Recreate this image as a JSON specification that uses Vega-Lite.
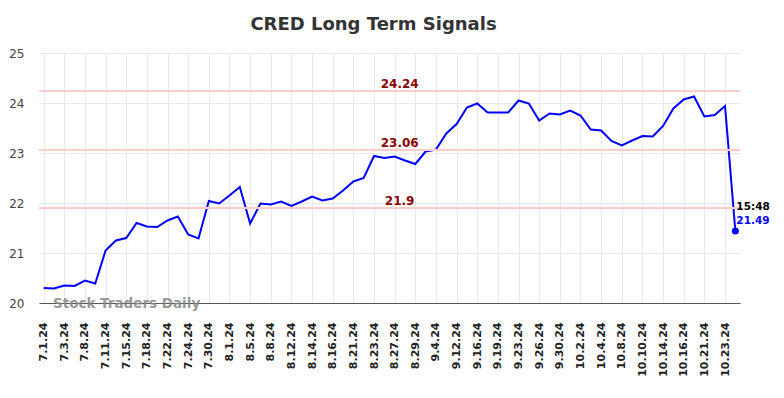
{
  "$schema": "https://vega.github.io/schema/vega-lite/v6.json",
  "autosize": "none",
  "padding": {"left": 39, "top": 53, "right": 44, "bottom": 95},
  "width": 701,
  "height": 250,
  "background": "white",
  "config": {
    "font": "DejaVu Sans",
    "view": {"stroke": null},
    "axis": {"gridColor": "#e8e8e8", "gridWidth": 1}
  },
  "title": {
    "text": "CRED Long Term Signals",
    "fontSize": 18,
    "fontWeight": "bold",
    "color": "#333333",
    "font": "DejaVu Sans",
    "anchor": "middle",
    "dx": -16,
    "offset": 13
  },
  "datasets": {
    "prices": [
      {"d": "7.1.24", "v": 20.30}, {"d": "7.2.24", "v": 20.29}, {"d": "7.3.24", "v": 20.35}, {"d": "7.5.24", "v": 20.34},
      {"d": "7.8.24", "v": 20.45}, {"d": "7.10.24", "v": 20.39}, {"d": "7.11.24", "v": 21.05}, {"d": "7.12.24", "v": 21.25},
      {"d": "7.15.24", "v": 21.30}, {"d": "7.16.24", "v": 21.60}, {"d": "7.18.24", "v": 21.53}, {"d": "7.19.24", "v": 21.52},
      {"d": "7.22.24", "v": 21.65}, {"d": "7.23.24", "v": 21.73}, {"d": "7.24.24", "v": 21.37}, {"d": "7.25.24", "v": 21.29},
      {"d": "7.30.24", "v": 22.04}, {"d": "7.31.24", "v": 21.99}, {"d": "8.1.24", "v": 22.15}, {"d": "8.2.24", "v": 22.32},
      {"d": "8.5.24", "v": 21.59}, {"d": "8.6.24", "v": 21.99}, {"d": "8.8.24", "v": 21.97}, {"d": "8.9.24", "v": 22.03},
      {"d": "8.12.24", "v": 21.94}, {"d": "8.13.24", "v": 22.03}, {"d": "8.14.24", "v": 22.13}, {"d": "8.15.24", "v": 22.05},
      {"d": "8.16.24", "v": 22.09}, {"d": "8.19.24", "v": 22.25}, {"d": "8.21.24", "v": 22.43}, {"d": "8.22.24", "v": 22.50},
      {"d": "8.23.24", "v": 22.94}, {"d": "8.26.24", "v": 22.90}, {"d": "8.27.24", "v": 22.93}, {"d": "8.28.24", "v": 22.85},
      {"d": "8.29.24", "v": 22.78}, {"d": "8.30.24", "v": 23.03}, {"d": "9.4.24", "v": 23.07}, {"d": "9.5.24", "v": 23.39},
      {"d": "9.12.24", "v": 23.58}, {"d": "9.13.24", "v": 23.91}, {"d": "9.16.24", "v": 23.99}, {"d": "9.17.24", "v": 23.81},
      {"d": "9.19.24", "v": 23.81}, {"d": "9.20.24", "v": 23.81}, {"d": "9.23.24", "v": 24.05}, {"d": "9.24.24", "v": 23.99},
      {"d": "9.26.24", "v": 23.65}, {"d": "9.27.24", "v": 23.79}, {"d": "9.30.24", "v": 23.77}, {"d": "10.1.24", "v": 23.85},
      {"d": "10.2.24", "v": 23.75}, {"d": "10.3.24", "v": 23.47}, {"d": "10.4.24", "v": 23.45}, {"d": "10.7.24", "v": 23.24},
      {"d": "10.8.24", "v": 23.15}, {"d": "10.9.24", "v": 23.25}, {"d": "10.10.24", "v": 23.34}, {"d": "10.11.24", "v": 23.33},
      {"d": "10.14.24", "v": 23.54}, {"d": "10.15.24", "v": 23.89}, {"d": "10.16.24", "v": 24.07}, {"d": "10.17.24", "v": 24.13},
      {"d": "10.21.24", "v": 23.73}, {"d": "10.22.24", "v": 23.76}, {"d": "10.23.24", "v": 23.94}, {"d": "10.24.24", "v": 21.44}
    ],
    "levels": [
      {"level": 24.24, "lbl": "24.24"},
      {"level": 23.06, "lbl": "23.06"},
      {"level": 21.9, "lbl": "21.9"}
    ],
    "last": [
      {"d": "10.24.24", "v": 21.44, "time": "15:48", "lbl": "21.49"}
    ],
    "brand": [
      {"d": "7.2.24", "v": 20, "name": "Stock Traders Daily"}
    ]
  },
  "layer": [
    {
      "data": {"name": "prices"},
      "mark": {"type": "line", "color": "#0000ff", "strokeWidth": 2},
      "encoding": {
        "x": {
          "field": "d",
          "type": "ordinal",
          "sort": null,
          "scale": {
            "type": "point",
            "padding": 0.45,
            "domain": ["7.1.24","7.2.24","7.3.24","7.5.24","7.8.24","7.10.24","7.11.24","7.12.24","7.15.24","7.16.24","7.18.24","7.19.24","7.22.24","7.23.24","7.24.24","7.25.24","7.30.24","7.31.24","8.1.24","8.2.24","8.5.24","8.6.24","8.8.24","8.9.24","8.12.24","8.13.24","8.14.24","8.15.24","8.16.24","8.19.24","8.21.24","8.22.24","8.23.24","8.26.24","8.27.24","8.28.24","8.29.24","8.30.24","9.4.24","9.5.24","9.12.24","9.13.24","9.16.24","9.17.24","9.19.24","9.20.24","9.23.24","9.24.24","9.26.24","9.27.24","9.30.24","10.1.24","10.2.24","10.3.24","10.4.24","10.7.24","10.8.24","10.9.24","10.10.24","10.11.24","10.14.24","10.15.24","10.16.24","10.17.24","10.21.24","10.22.24","10.23.24","10.24.24"]
          },
          "axis": {
            "title": null,
            "values": ["7.1.24","7.3.24","7.8.24","7.11.24","7.15.24","7.18.24","7.22.24","7.24.24","7.30.24","8.1.24","8.5.24","8.8.24","8.12.24","8.14.24","8.16.24","8.21.24","8.23.24","8.27.24","8.29.24","9.4.24","9.12.24","9.16.24","9.19.24","9.23.24","9.26.24","9.30.24","10.2.24","10.4.24","10.8.24","10.10.24","10.14.24","10.16.24","10.21.24","10.23.24"],
            "labelAngle": 270,
            "labelAlign": "right",
            "labelBaseline": "middle",
            "labelFontSize": 11,
            "labelFontWeight": "bold",
            "labelColor": "#222222",
            "labelPadding": 19,
            "ticks": false,
            "tickSize": 0,
            "grid": true,
            "domainColor": "#555555",
            "domainWidth": 1
          }
        },
        "y": {
          "field": "v",
          "type": "quantitative",
          "scale": {"domain": [20, 25], "nice": false, "zero": false},
          "axis": {
            "title": null,
            "values": [20, 21, 22, 23, 24, 25],
            "labelFontSize": 12,
            "labelColor": "#444444",
            "labelPadding": 15,
            "ticks": false,
            "tickSize": 0,
            "domain": false,
            "grid": true
          }
        }
      }
    },
    {
      "data": {"name": "levels"},
      "mark": {"type": "rule", "color": "#ffcccc", "strokeWidth": 2},
      "encoding": {"y": {"field": "level", "type": "quantitative"}}
    },
    {
      "data": {"name": "levels"},
      "mark": {"type": "text", "color": "#8b0000", "fontSize": 12, "fontWeight": "bold", "align": "center", "baseline": "alphabetic", "dx": 5, "dy": -3},
      "encoding": {
        "x": {"datum": "8.27.24"},
        "y": {"field": "level", "type": "quantitative"},
        "text": {"field": "lbl"}
      }
    },
    {
      "data": {"name": "last"},
      "mark": {"type": "circle", "color": "#0000ff", "opacity": 1, "size": 50},
      "encoding": {
        "x": {"field": "d", "type": "ordinal", "sort": null},
        "y": {"field": "v", "type": "quantitative"}
      }
    },
    {
      "data": {"name": "last"},
      "mark": {"type": "text", "color": "#000000", "fontSize": 10.5, "fontWeight": "bold", "align": "left", "baseline": "alphabetic", "dx": 1, "dy": -21},
      "encoding": {
        "x": {"field": "d", "type": "ordinal", "sort": null},
        "y": {"field": "v", "type": "quantitative"},
        "text": {"field": "time"}
      }
    },
    {
      "data": {"name": "last"},
      "mark": {"type": "text", "color": "#0000ff", "fontSize": 10.5, "fontWeight": "bold", "align": "left", "baseline": "alphabetic", "dx": 1, "dy": -7},
      "encoding": {
        "x": {"field": "d", "type": "ordinal", "sort": null},
        "y": {"field": "v", "type": "quantitative"},
        "text": {"field": "lbl"}
      }
    },
    {
      "data": {"name": "brand"},
      "mark": {"type": "text", "color": "#888888", "opacity": 0.85, "fontSize": 13.5, "fontWeight": "bold", "align": "left", "baseline": "alphabetic", "dx": -1, "dy": 5},
      "encoding": {
        "x": {"field": "d", "type": "ordinal", "sort": null},
        "y": {"field": "v", "type": "quantitative"},
        "text": {"field": "name"}
      }
    }
  ]
}
